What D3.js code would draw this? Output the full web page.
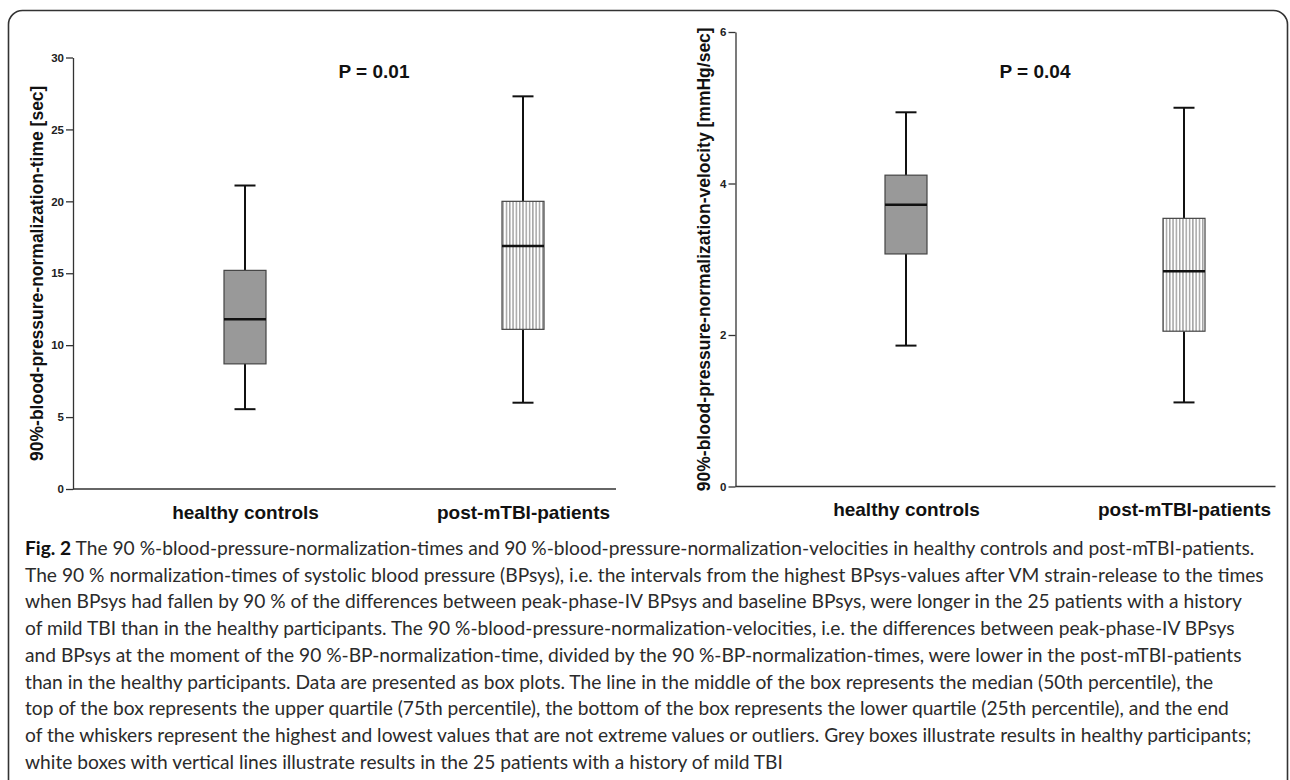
<!DOCTYPE html>
<html lang="en">
<head>
<meta charset="utf-8">
<title>Fig. 2</title>
<script src="https://d3js.org/d3.v7.min.js"></script>
<style>
body { margin: 0; background: #fff; }
.tick text { font-family: "Liberation Sans", Arial, sans-serif; font-weight: bold; font-size: 11.5px; fill: #222; }
.cat text { font-family: "Liberation Sans", Arial, sans-serif; font-weight: bold; font-size: 19px; fill: #111; }
</style>
</head>
<body>
<script>
// data
var groups = ["healthy controls", "post-mTBI-patients"];

var timeLow    = [5.55, 6.0];
var timeQ1     = [8.7, 11.1];
var timeMedian = [11.8, 16.9];
var timeQ3     = [15.2, 20.0];
var timeHigh   = [21.1, 27.3];
var timeTicks  = [0, 5, 10, 15, 20, 25, 30];

var velLow    = [1.86, 1.11];
var velQ1     = [3.07, 2.05];
var velMedian = [3.72, 2.84];
var velQ3     = [4.11, 3.54];
var velHigh   = [4.94, 5.0];
var velTicks  = [0, 2, 4, 6];

var pLabels = ["P = 0.01", "P = 0.04"];

var captionLines = [
  " The 90 %-blood-pressure-normalization-times and 90 %-blood-pressure-normalization-velocities in healthy controls and post-mTBI-patients.",
  "The 90 % normalization-times of systolic blood pressure (BPsys), i.e. the intervals from the highest BPsys-values after VM strain-release to the times",
  "when BPsys had fallen by 90 % of the differences between peak-phase-IV BPsys and baseline BPsys, were longer in the 25 patients with a history",
  "of mild TBI than in the healthy participants. The 90 %-blood-pressure-normalization-velocities, i.e. the differences between peak-phase-IV BPsys",
  "and BPsys at the moment of the 90 %-BP-normalization-time, divided by the 90 %-BP-normalization-times, were lower in the post-mTBI-patients",
  "than in the healthy participants. Data are presented as box plots. The line in the middle of the box represents the median (50th percentile), the",
  "top of the box represents the upper quartile (75th percentile), the bottom of the box represents the lower quartile (25th percentile), and the end",
  "of the whiskers represent the highest and lowest values that are not extreme values or outliers. Grey boxes illustrate results in healthy participants;",
  "white boxes with vertical lines illustrate results in the 25 patients with a history of mild TBI"
];

var W = 1290, H = 780;
var svg = d3.select("body").append("svg")
  .attr("width", W)
  .attr("height", H);

// hatch for the patient boxes
var defs = svg.append("defs");
var pat = defs.append("pattern")
  .attr("id", "vhatch")
  .attr("patternUnits", "userSpaceOnUse")
  .attr("width", 3.3)
  .attr("height", 10);
pat.append("rect").attr("width", 3.3).attr("height", 10).attr("fill", "#fff");
pat.append("line")
  .attr("x1", 1.6).attr("x2", 1.6).attr("y1", 0).attr("y2", 10)
  .attr("stroke", "#6a6a6a").attr("stroke-width", 0.9);

// outer frame
svg.append("rect")
  .attr("x", 8.5).attr("y", 10.5)
  .attr("width", 1279).attr("height", 800)
  .attr("rx", 14).attr("ry", 14)
  .attr("fill", "none")
  .attr("stroke", "#333")
  .attr("stroke-width", 1.6);

function boxPanel(opt) {
  var g = svg.append("g");

  var y = d3.scaleLinear().domain(opt.domain).range([opt.bottom, opt.top]);
  var x = d3.scalePoint().domain(groups).range([opt.axisX + opt.firstOff, opt.axisX + opt.secondOff]);

  // y axis
  var yAxis = g.append("g")
    .attr("transform", "translate(" + opt.axisX + ",0)")
    .call(d3.axisLeft(y).tickValues(opt.ticks).tickSize(7).tickSizeOuter(0).tickPadding(2).tickFormat(d3.format("d")));
  yAxis.selectAll("path, line").attr("stroke", "#333").attr("stroke-width", 1.3);

  // x axis baseline
  g.append("line")
    .attr("x1", opt.axisX).attr("x2", opt.axisX + opt.axisLen)
    .attr("y1", y(0)).attr("y2", y(0))
    .attr("stroke", "#333").attr("stroke-width", 1.4);

  // category labels
  var xAxis = g.append("g")
    .attr("class", "cat")
    .attr("transform", "translate(0," + y(0) + ")")
    .call(d3.axisBottom(x).tickSize(0).tickPadding(16.5));
  xAxis.select(".domain").remove();
  xAxis.selectAll(".tick text").attr("class", null);

  // y label
  g.append("text")
    .attr("transform", "translate(" + opt.labelX + "," + ((y.range()[0] + y.range()[1]) / 2) + ") rotate(-90)")
    .attr("text-anchor", "middle")
    .attr("font-family", "Liberation Sans, Arial, sans-serif")
    .attr("font-weight", "bold")
    .attr("font-size", "17.5px")
    .attr("fill", "#111")
    .text(opt.yLabel);

  // p value
  g.append("text")
    .attr("x", (x(groups[0]) + x(groups[1])) / 2 - 10)
    .attr("y", 78)
    .attr("text-anchor", "middle")
    .attr("font-family", "Liberation Sans, Arial, sans-serif")
    .attr("font-weight", "bold")
    .attr("font-size", "19px")
    .attr("fill", "#111")
    .text(opt.p);

  var bw = 42, cw = 21;
  groups.forEach(function (grp, i) {
    var cx = x(grp);
    // whiskers
    g.append("line")
      .attr("x1", cx).attr("x2", cx)
      .attr("y1", y(opt.high[i])).attr("y2", y(opt.q3[i]))
      .attr("stroke", "#111").attr("stroke-width", 2);
    g.append("line")
      .attr("x1", cx).attr("x2", cx)
      .attr("y1", y(opt.q1[i])).attr("y2", y(opt.low[i]))
      .attr("stroke", "#111").attr("stroke-width", 2);
    [opt.high[i], opt.low[i]].forEach(function (v) {
      g.append("line")
        .attr("x1", cx - cw / 2).attr("x2", cx + cw / 2)
        .attr("y1", y(v)).attr("y2", y(v))
        .attr("stroke", "#111").attr("stroke-width", 2);
    });
    // box
    g.append("rect")
      .attr("x", cx - bw / 2)
      .attr("y", y(opt.q3[i]))
      .attr("width", bw)
      .attr("height", y(opt.q1[i]) - y(opt.q3[i]))
      .attr("fill", i == 0 ? "#999999" : "url(#vhatch)")
      .attr("stroke", "#444")
      .attr("stroke-width", 1.2);
    // median
    g.append("line")
      .attr("x1", cx - bw / 2).attr("x2", cx + bw / 2)
      .attr("y1", y(opt.median[i])).attr("y2", y(opt.median[i]))
      .attr("stroke", "#111").attr("stroke-width", 2.5);
  });
}

boxPanel({
  domain: [0, 30], ticks: timeTicks, bottom: 489, top: 57.5,
  axisX: 73, axisLen: 543, firstOff: 172, secondOff: 450, labelX: 43,
  yLabel: "90%-blood-pressure-normalization-time [sec]", p: pLabels[0],
  low: timeLow, q1: timeQ1, median: timeMedian, q3: timeQ3, high: timeHigh
});

boxPanel({
  domain: [0, 6], ticks: velTicks, bottom: 486.5, top: 32,
  axisX: 735.5, axisLen: 540, firstOff: 170.5, secondOff: 448.5, labelX: 710,
  yLabel: "90%-blood-pressure-normalization-velocity [mmHg/sec]", p: pLabels[1],
  low: velLow, q1: velQ1, median: velMedian, q3: velQ3, high: velHigh
});

// caption
var cap = svg.append("g")
  .attr("font-family", "Lato, 'Open Sans', sans-serif")
  .attr("fill", "#2b2b2b");

var lines = cap.selectAll("text.capline")
  .data(captionLines)
  .enter().append("text")
  .attr("class", "capline")
  .attr("x", 25)
  .attr("y", function (d, i) { return 555 + i * 26.7; })
  .attr("font-size", "16px");

lines.each(function (d, i) {
  var t = d3.select(this);
  if (i == 0) {
    t.append("tspan").attr("font-weight", "bold").attr("fill", "#111").text("Fig. 2");
  }
  t.append("tspan").text(d);
});

// size the caption so the widest line reaches the right margin
var widest = 0;
lines.each(function () { widest = Math.max(widest, this.getComputedTextLength()); });
var fs = 16 * 1240 / widest;
lines.attr("font-size", fs + "px");
</script>
</body>
</html>
